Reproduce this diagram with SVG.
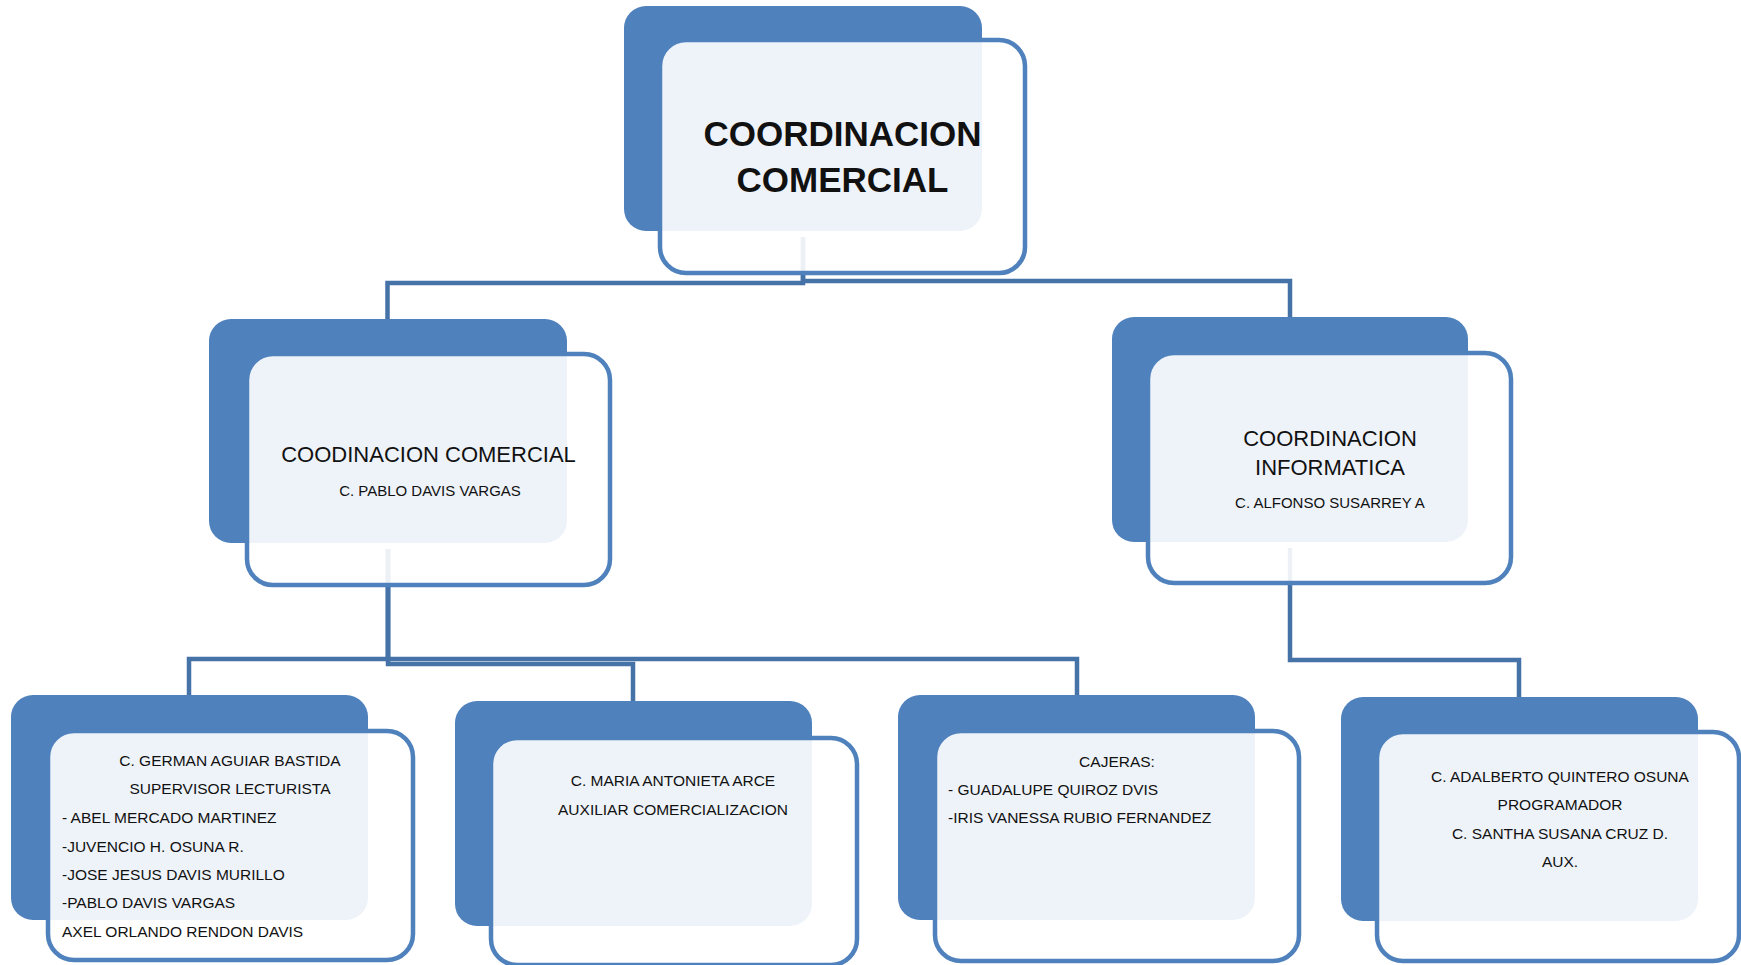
<svg xmlns="http://www.w3.org/2000/svg" width="1741" height="965" viewBox="0 0 1741 965">
<style>
.dk{fill:#4F81BD}
.ol{fill:#fff;fill-opacity:0.9;stroke:#4F81BD;stroke-width:4.5}
.cn{fill:none;stroke:#4572A7;stroke-width:4.5}
text{font-family:"Liberation Sans",Arial,sans-serif;fill:#111}
.t1{font-size:35px;font-weight:bold;text-anchor:middle}
.t2{font-size:22px;text-anchor:middle}
.s2{font-size:15px;text-anchor:middle}
.t3{font-size:15.5px}
.c{text-anchor:middle}
</style>
<g id="connectors">
<path class="cn" d="M803,237 V283 H387.5 V320"/>
<path class="cn" d="M803,237 V281 H1290 V318"/>
<path class="cn" d="M388,549 V659 H189 V696"/>
<path class="cn" d="M388,549 V659 H1077 V696"/>
<path class="cn" d="M388,549 V664 H633 V702"/>
<path class="cn" d="M1290,548 V660 H1519 V698"/>
</g>
<g id="node-top">
<rect class="dk" x="624" y="6" width="358" height="225" rx="22"/>
<rect class="ol" x="660" y="40" width="365" height="233" rx="26"/>
<text class="t1" x="842.5" y="146">COORDINACION</text>
<text class="t1" x="842.5" y="192">COMERCIAL</text>
</g>
<g id="node-comercial">
<rect class="dk" x="209" y="319" width="358" height="224" rx="22"/>
<rect class="ol" x="247" y="354" width="363" height="231" rx="26"/>
<text class="t2" x="428.5" y="462">COODINACION COMERCIAL</text>
<text class="s2" x="430" y="496">C. PABLO DAVIS VARGAS</text>
</g>
<g id="node-informatica">
<rect class="dk" x="1112" y="317" width="356" height="225" rx="22"/>
<rect class="ol" x="1148" y="353" width="363" height="230" rx="26"/>
<text class="t2" x="1330" y="446">COORDINACION</text>
<text class="t2" x="1330" y="475">INFORMATICA</text>
<text class="s2" x="1330" y="508">C. ALFONSO SUSARREY A</text>
</g>
<g id="node-lecturistas">
<rect class="dk" x="11" y="695" width="357" height="225" rx="22"/>
<rect class="ol" x="48" y="731" width="365" height="229" rx="26"/>
<text class="t3 c" x="230" y="766">C. GERMAN AGUIAR BASTIDA</text>
<text class="t3 c" x="230" y="794">SUPERVISOR LECTURISTA</text>
<text class="t3" x="62" y="823">- ABEL MERCADO MARTINEZ</text>
<text class="t3" x="62" y="852">-JUVENCIO H. OSUNA R.</text>
<text class="t3" x="62" y="880">-JOSE JESUS DAVIS MURILLO</text>
<text class="t3" x="62" y="908">-PABLO DAVIS VARGAS</text>
<text class="t3" x="62" y="937">AXEL ORLANDO RENDON DAVIS</text>
</g>
<g id="node-auxiliar">
<rect class="dk" x="455" y="701" width="357" height="225" rx="22"/>
<rect class="ol" x="491" y="738" width="366" height="227" rx="26"/>
<text class="t3 c" x="673" y="786">C. MARIA ANTONIETA ARCE</text>
<text class="t3 c" x="673" y="815">AUXILIAR COMERCIALIZACION</text>
</g>
<g id="node-cajeras">
<rect class="dk" x="898" y="695" width="357" height="225" rx="22"/>
<rect class="ol" x="935" y="731" width="364" height="230" rx="26"/>
<text class="t3 c" x="1117" y="767">CAJERAS:</text>
<text class="t3" x="948" y="795">- GUADALUPE QUIROZ DVIS</text>
<text class="t3" x="948" y="823">-IRIS VANESSA RUBIO FERNANDEZ</text>
</g>
<g id="node-programador">
<rect class="dk" x="1341" y="697" width="357" height="224" rx="22"/>
<rect class="ol" x="1377" y="732" width="362" height="229" rx="26"/>
<text class="t3 c" x="1560" y="782">C. ADALBERTO QUINTERO OSUNA</text>
<text class="t3 c" x="1560" y="810">PROGRAMADOR</text>
<text class="t3 c" x="1560" y="839">C. SANTHA SUSANA CRUZ D.</text>
<text class="t3 c" x="1560" y="867">AUX.</text>
</g>
</svg>
